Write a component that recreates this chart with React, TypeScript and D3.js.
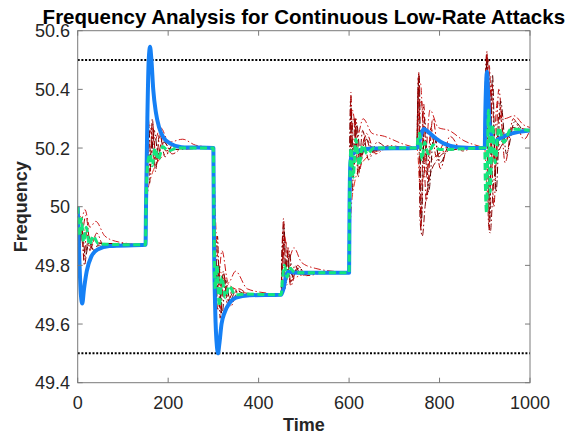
import React from "react";
import * as d3 from "d3";

type Pt = [number, number];

const title = "Frequency Analysis for Continuous Low-Rate Attacks";
const xLabel = "Time";
const yLabel = "Frequency";
const xTicks = [0, 200, 400, 600, 800, 1000];
const yTicks = [49.4, 49.6, 49.8, 50, 50.2, 50.4, 50.6];
const limitLines = [50.5, 49.5];

const blueSeries: Pt[] = [
  [0, 50.0], [3, 49.85], [7, 49.7], [10, 49.67], [14, 49.72], [20, 49.78], [30, 49.83], [45, 49.855], [70, 49.866], [150, 49.87],
  [151, 50.0], [154, 50.3], [157, 50.5], [160, 50.545], [163, 50.5], [167, 50.4], [173, 50.32], [180, 50.27], [190, 50.235], [205, 50.215], [230, 50.203], [300, 50.2],
  [301, 49.95], [304, 49.65], [308, 49.52], [310, 49.5], [313, 49.53], [318, 49.6], [325, 49.64], [335, 49.67], [350, 49.69], [380, 49.698], [450, 49.7],
  [455, 49.72], [460, 49.76], [465, 49.778], [475, 49.776], [500, 49.775], [600, 49.775],
  [601, 50.0], [603, 50.15], [607, 50.18], [620, 50.19], [650, 50.198], [750, 50.2],
  [755, 50.22], [760, 50.25], [765, 50.265], [775, 50.255], [790, 50.235], [810, 50.215], [840, 50.203], [900, 50.2],
  [901, 50.3], [903, 50.42], [905, 50.46], [907, 50.4], [910, 50.3], [915, 50.24], [920, 50.22], [930, 50.23], [950, 50.245], [975, 50.255], [1000, 50.26],
];

const greenSeries: Pt[] = [
  [0, 50.0], [4, 49.9], [8, 49.96], [13, 49.88], [19, 49.93], [26, 49.87], [34, 49.9], [45, 49.875], [65, 49.872], [150, 49.87],
  [151, 50.0], [155, 50.15], [160, 50.18], [165, 50.14], [171, 50.2], [178, 50.16], [188, 50.205], [200, 50.19], [220, 50.2], [300, 50.2],
  [301, 50.0], [304, 49.72], [308, 49.8], [313, 49.66], [319, 49.76], [326, 49.69], [335, 49.73], [348, 49.7], [370, 49.702], [450, 49.7],
  [452, 49.74], [457, 49.8], [463, 49.76], [470, 49.79], [480, 49.775], [600, 49.775],
  [601, 50.0], [604, 50.2], [609, 50.1], [615, 50.23], [622, 50.14], [630, 50.21], [640, 50.18], [655, 50.2], [750, 50.2],
  [752, 50.23], [756, 50.25], [761, 50.16], [767, 50.22], [775, 50.18], [786, 50.21], [800, 50.195], [900, 50.2],
  [901, 50.1], [904, 49.98], [908, 50.33], [912, 50.05], [917, 50.28], [923, 50.15], [931, 50.27], [942, 50.22], [958, 50.265], [1000, 50.26],
];

const red1: Pt[] = [
  [0, 50.0], [4, 49.8], [9, 49.95], [14, 49.82], [20, 49.92], [27, 49.85], [35, 49.89], [50, 49.868], [150, 49.87],
  [151, 49.9], [155, 50.32], [160, 50.12], [166, 50.28], [173, 50.16], [182, 50.24], [195, 50.19], [215, 50.205], [300, 50.2],
  [301, 50.1], [305, 49.6], [310, 49.8], [316, 49.64], [323, 49.75], [332, 49.68], [345, 49.71], [370, 49.7], [450, 49.7],
  [451, 49.75], [455, 49.96], [460, 49.78], [466, 49.86], [474, 49.76], [485, 49.79], [505, 49.772], [600, 49.775],
  [601, 49.9], [604, 50.39], [609, 50.1], [615, 50.3], [623, 50.15], [635, 50.24], [650, 50.19], [680, 50.202], [750, 50.2],
  [751, 50.25], [754, 50.46], [759, 49.92], [765, 50.35], [772, 50.1], [781, 50.27], [793, 50.17], [810, 50.215], [840, 50.2], [900, 50.2],
  [901, 50.3], [905, 50.53], [910, 49.92], [916, 50.42], [923, 50.12], [932, 50.32], [945, 50.22], [962, 50.27], [1000, 50.26],
];

const red2: Pt[] = [
  [0, 50.0], [8, 49.9], [18, 49.97], [29, 49.86], [42, 49.91], [59, 49.86], [84, 49.875], [150, 49.87],
  [151, 49.95], [160, 50.26], [172, 50.14], [188, 50.23], [209, 50.18], [237, 50.205], [280, 50.2], [300, 50.2],
  [301, 50.0], [310, 49.65], [322, 49.77], [338, 49.66], [356, 49.72], [384, 49.695], [450, 49.7],
  [453, 49.8], [460, 49.88], [471, 49.73], [486, 49.8], [506, 49.765], [550, 49.776], [600, 49.775],
  [603, 50.05], [610, 50.3], [622, 50.12], [638, 50.25], [659, 50.18], [687, 50.208], [740, 50.2], [750, 50.2],
  [753, 50.3], [760, 50.36], [771, 50.02], [785, 50.3], [802, 50.13], [823, 50.24], [851, 50.19], [880, 50.203], [900, 50.2],
  [903, 50.42], [910, 50.48], [920, 50.0], [931, 50.4], [945, 50.15], [963, 50.3], [987, 50.23], [1000, 50.262],
];

const red3: Pt[] = [
  [0, 50.0], [5, 49.97], [12, 49.93], [22, 49.9], [35, 49.885], [55, 49.875], [150, 49.87],
  [151, 49.95], [155, 50.05], [162, 50.1], [172, 50.14], [186, 50.17], [205, 50.19], [235, 50.198], [300, 50.2],
  [301, 50.15], [305, 49.95], [310, 49.82], [318, 49.77], [330, 49.74], [348, 49.72], [375, 49.705], [450, 49.7],
  [451, 49.71], [456, 49.72], [463, 49.735], [473, 49.75], [488, 49.763], [510, 49.772], [600, 49.775],
  [601, 49.85], [605, 50.0], [612, 50.08], [622, 50.13], [637, 50.165], [657, 50.186], [690, 50.197], [750, 50.2],
  [752, 50.18], [757, 50.06], [764, 50.1], [774, 50.14], [790, 50.17], [812, 50.19], [845, 50.198], [900, 50.2],
  [902, 50.15], [906, 50.05], [912, 50.1], [920, 50.17], [932, 50.21], [948, 50.24], [970, 50.255], [1000, 50.26],
];

const red4: Pt[] = [
  [0, 50.0], [3, 49.78], [8, 49.93], [15, 49.8], [24, 49.9], [36, 49.85], [52, 49.875], [80, 49.869], [150, 49.87],
  [151, 50.0], [154, 50.36], [159, 50.08], [165, 50.3], [172, 50.12], [181, 50.25], [193, 50.17], [210, 50.21], [240, 50.199], [300, 50.2],
  [301, 50.05], [304, 49.62], [309, 49.9], [315, 49.62], [322, 49.78], [331, 49.67], [343, 49.72], [362, 49.695], [400, 49.7], [450, 49.7],
  [451, 49.8], [454, 49.92], [458, 49.72], [464, 49.85], [471, 49.74], [480, 49.8], [495, 49.765], [520, 49.777], [600, 49.775],
  [601, 50.1], [603, 50.36], [607, 50.05], [613, 50.3], [620, 50.1], [630, 50.26], [643, 50.16], [662, 50.22], [690, 50.195], [750, 50.2],
  [751, 50.3], [753, 50.44], [757, 49.95], [762, 49.9], [768, 50.0], [778, 50.1], [795, 50.16], [820, 50.19], [860, 50.199], [900, 50.2],
  [901, 50.4], [904, 50.52], [908, 49.95], [912, 49.91], [918, 50.05], [928, 50.17], [942, 50.22], [965, 50.25], [1000, 50.26],
];

const red5: Pt[] = [
  [0, 50.0], [7, 49.95], [16, 49.99], [27, 49.93], [40, 49.95], [60, 49.9], [90, 49.88], [150, 49.87],
  [151, 50.05], [158, 50.28], [169, 50.22], [183, 50.27], [202, 50.22], [232, 50.23], [260, 50.21], [295, 50.202], [300, 50.2],
  [301, 50.1], [309, 49.72], [319, 49.85], [333, 49.74], [349, 49.78], [375, 49.72], [420, 49.705], [450, 49.7],
  [451, 49.76], [457, 49.9], [466, 49.82], [478, 49.86], [495, 49.81], [525, 49.79], [585, 49.777], [600, 49.775],
  [601, 50.05], [607, 50.33], [618, 50.24], [631, 50.3], [651, 50.25], [678, 50.24], [717, 50.215], [745, 50.202], [750, 50.2],
  [752, 50.35], [758, 50.42], [767, 50.15], [779, 50.33], [797, 50.27], [821, 50.26], [854, 50.225], [890, 50.205], [900, 50.2],
  [902, 50.45], [908, 50.5], [917, 50.15], [928, 50.36], [943, 50.3], [965, 50.31], [985, 50.28], [1000, 50.27],
];

const red6: Pt[] = [
  [0, 50.0], [4, 49.85], [10, 49.92], [17, 49.83], [25, 49.88], [35, 49.85], [48, 49.875], [150, 49.87],
  [151, 49.97], [156, 50.3], [162, 50.16], [169, 50.26], [178, 50.18], [190, 50.22], [206, 50.195], [300, 50.2],
  [301, 50.02], [306, 49.68], [312, 49.8], [319, 49.63], [327, 49.75], [337, 49.68], [350, 49.715], [375, 49.698], [450, 49.7],
  [451, 49.8], [456, 49.94], [461, 49.74], [468, 49.84], [476, 49.76], [488, 49.79], [510, 49.772], [600, 49.775],
  [601, 50.0], [604, 50.34], [610, 50.12], [617, 50.28], [626, 50.16], [638, 50.23], [655, 50.19], [680, 50.203], [750, 50.2],
  [751, 50.3], [755, 50.45], [760, 49.95], [767, 50.3], [776, 50.05], [787, 50.24], [802, 50.15], [822, 50.21], [850, 50.198], [900, 50.2],
  [901, 50.35], [906, 50.51], [911, 49.95], [917, 50.45], [925, 50.05], [935, 50.36], [948, 50.18], [966, 50.29], [990, 50.255], [1000, 50.26],
];

const redSeries: Pt[][] = [red3, red5, red2, red4, red6, red1];
const redColors = ["#e0301e", "#cc1a1a", "#b30000", "#8b0000", "#5c0000", "#a80000"];

const W = 583;
const H = 440;
const M = { left: 77.7, right: 530, top: 30.7, bottom: 382.7 };
const FONT = "'Liberation Sans', Arial, Helvetica, sans-serif";

export default function App() {
  const x = d3.scaleLinear().domain([0, 1000]).range([M.left, M.right]);
  const y = d3.scaleLinear().domain([49.4, 50.6]).range([M.bottom, M.top]);
  const line = d3
    .line<Pt>()
    .x((d) => x(d[0]))
    .y((d) => y(d[1]))
    .curve(d3.curveMonotoneX);
  const axisColor = "#7a7a7a";
  const tickLen = 5;

  return (
    <svg width={W} height={H} style={{ position: "absolute", left: 0, top: 0, background: "#fff" }}>
      <defs>
        <clipPath id="plotClip">
          <rect x={M.left} y={M.top} width={M.right - M.left} height={M.bottom - M.top} />
        </clipPath>
      </defs>
      <rect x={0} y={0} width={W} height={H} fill="#fff" />
      <g clipPath="url(#plotClip)">
        {limitLines.map((v) => (
          <line key={v} x1={M.left} x2={M.right} y1={y(v)} y2={y(v)} stroke="#000" strokeWidth={2} strokeDasharray="2,1.7" />
        ))}
        {redSeries.map((s, i) => (
          <path key={i} d={line(s) || ""} fill="none" stroke={redColors[i]} strokeWidth={1} strokeDasharray="7,2.5,1.5,2.5" />
        ))}
        <path d={line(blueSeries) || ""} fill="none" stroke="#1580f5" strokeWidth={4} strokeLinejoin="round" />
        <path d={line(greenSeries) || ""} fill="none" stroke="#14e67d" strokeWidth={3} strokeDasharray="7,3.5" />
      </g>
      <rect x={M.left} y={M.top} width={M.right - M.left} height={M.bottom - M.top} fill="none" stroke={axisColor} strokeWidth={1} />
      {xTicks.map((t) => (
        <g key={"x" + t}>
          <line x1={x(t)} x2={x(t)} y1={M.bottom} y2={M.bottom - tickLen} stroke={axisColor} />
          <line x1={x(t)} x2={x(t)} y1={M.top} y2={M.top + tickLen} stroke={axisColor} />
          <text x={x(t)} y={409} textAnchor="middle" fontFamily={FONT} fontSize={18} fill="#262626">
            {t}
          </text>
        </g>
      ))}
      {yTicks.map((t) => (
        <g key={"y" + t}>
          <line x1={M.left} x2={M.left + tickLen} y1={y(t)} y2={y(t)} stroke={axisColor} />
          <line x1={M.right} x2={M.right - tickLen} y1={y(t)} y2={y(t)} stroke={axisColor} />
          <text x={70} y={y(t) + 6.5} textAnchor="end" fontFamily={FONT} fontSize={18} fill="#262626">
            {d3.format("")(+t.toFixed(1))}
          </text>
        </g>
      ))}
      <text x={(M.left + M.right) / 2} y={24} textAnchor="middle" fontFamily={FONT} fontSize={20.5} fontWeight="bold" fill="#000">
        {title}
      </text>
      <text x={(M.left + M.right) / 2} y={431} textAnchor="middle" fontFamily={FONT} fontSize={18} fontWeight="bold" fill="#262626">
        {xLabel}
      </text>
      <text
        transform={`translate(27,${(M.top + M.bottom) / 2}) rotate(-90)`}
        textAnchor="middle"
        fontFamily={FONT}
        fontSize={18}
        fontWeight="bold"
        fill="#262626"
      >
        {yLabel}
      </text>
    </svg>
  );
}
